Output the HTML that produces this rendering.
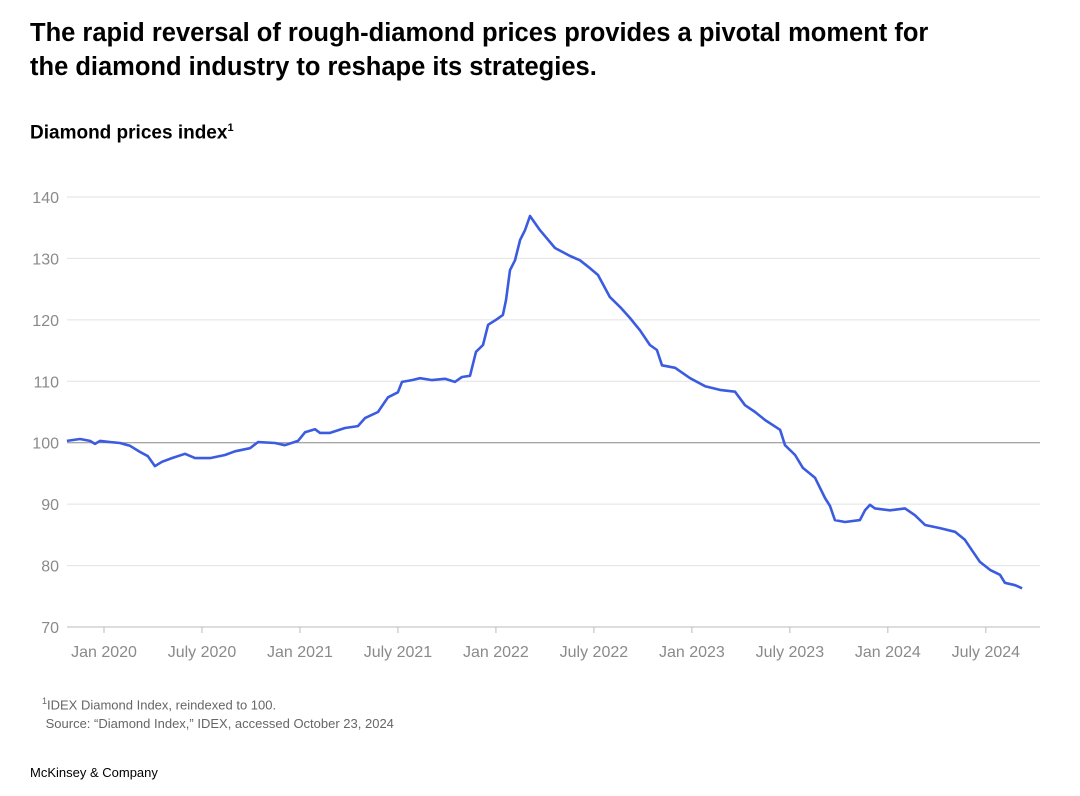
<!DOCTYPE html>
<html><head><meta charset="utf-8">
<style>
body{margin:0;background:#fff;font-family:"Liberation Sans",sans-serif;}
.wrap{position:relative;width:1080px;height:796px;overflow:hidden}
h1{position:absolute;left:30px;top:16px;margin:0;font-size:25.5px;line-height:34px;font-weight:bold;color:#000;width:920px}
.sub{position:absolute;left:30px;top:122px;font-size:19px;font-weight:bold;color:#000}
.fn{position:absolute;left:42px;top:692px;font-size:13px;color:#666;line-height:19px}
.brand{position:absolute;left:30px;top:765px;font-size:13px;color:#000}
svg{position:absolute;left:0;top:0}
</style></head><body>
<div class="wrap">
<h1>The rapid reversal of rough-diamond prices provides a pivotal moment for the diamond industry to reshape its strategies.</h1>
<div class="sub">Diamond prices index<sup style="font-size:11px">1</sup></div>
<svg id="chart" width="1080" height="796"></svg>
<div class="fn"><sup style="font-size:9px">1</sup>IDEX Diamond Index, reindexed to 100.<br>&nbsp;Source: “Diamond Index,” IDEX, accessed October 23, 2024</div>
<div class="brand">McKinsey &amp; Company</div>
</div>
<script>
const months=[-2.27,-1.47,-0.86,-0.55,-0.24,0.37,0.98,1.59,2.2,2.69,3.12,3.55,4.16,4.96,5.57,6.49,7.41,8.02,8.94,9.43,10.47,11.08,11.88,12.31,12.92,13.23,13.84,14.76,15.55,15.98,16.78,17.39,18,18.25,18.86,19.35,20.09,20.88,21.49,21.92,22.41,22.78,23.21,23.52,24,24.43,24.62,24.86,25.17,25.48,25.78,26.09,26.7,27.62,28.54,29.15,29.76,30.25,30.98,31.6,32.21,32.82,33.43,33.86,34.17,34.97,35.89,36.81,37.72,38.64,39.25,39.87,40.48,41.4,41.7,42.32,42.8,43.54,44.15,44.46,44.76,45.38,46.29,46.6,46.91,47.21,48.13,49.05,49.66,50.28,51.19,52.11,52.72,53.15,53.64,54.26,54.87,55.17,55.79,56.22];
const values=[100.3,100.6,100.3,99.8,100.3,100.1,99.95,99.5,98.5,97.8,96.2,96.9,97.5,98.2,97.5,97.5,98,98.6,99.1,100.1,99.95,99.6,100.3,101.7,102.2,101.6,101.6,102.4,102.7,104,105,107.4,108.2,109.9,110.2,110.5,110.2,110.4,109.9,110.7,110.9,114.8,115.9,119.2,120,120.8,123.2,128.1,129.7,133,134.6,136.9,134.6,131.7,130.4,129.7,128.4,127.3,123.7,122.1,120.3,118.3,115.9,115.1,112.6,112.2,110.5,109.2,108.6,108.3,106.1,105,103.7,102.1,99.6,98,95.9,94.3,91,89.7,87.4,87.1,87.4,89,89.9,89.3,89,89.3,88.2,86.6,86.1,85.5,84.2,82.5,80.6,79.3,78.5,77.2,76.8,76.3];
const yTicks=[70,80,90,100,110,120,130,140];
const xTickMonths=[0,6,12,18,24,30,36,42,48,54];
const xTickLabels=["Jan 2020","July 2020","Jan 2021","July 2021","Jan 2022","July 2022","Jan 2023","July 2023","Jan 2024","July 2024"];
const NS="http://www.w3.org/2000/svg";
const svg=document.getElementById('chart');
const x=m=>104+m*16.33;
const y=v=>627-(v-70)*6.143;
function mk(t,a){const e=document.createElementNS(NS,t);for(const k in a)e.setAttribute(k,a[k]);svg.appendChild(e);return e;}
yTicks.forEach(t=>{
  const l=mk('line',{x1:67,x2:1040,y1:y(t),y2:y(t),stroke:t===100?'#888':(t===70?'#bbb':'#e2e2e2'),'stroke-width':1});
  
  
  const tx=mk('text',{x:59,y:y(t)+6,'text-anchor':'end','font-size':16,fill:'#8a8a8a','font-family':'Liberation Sans'});
  tx.textContent=t;
  
  
});
xTickMonths.forEach((m,i)=>{
  const tk=mk('line',{x1:x(m),x2:x(m),y1:627,y2:633,stroke:'#bbb'});
  
  
  const tx=mk('text',{x:x(m),y:657,'text-anchor':'middle','font-size':16,fill:'#8a8a8a','font-family':'Liberation Sans'});
  tx.textContent=xTickLabels[i];
  
  
});
const d=months.map((m,i)=>(i?'L':'M')+x(m).toFixed(1)+','+y(values[i]).toFixed(1)).join('');
const p=mk('path',{d:d,fill:'none',stroke:'#3b5ce0','stroke-width':2.6,'stroke-linejoin':'round'});


</script>
</body></html>
